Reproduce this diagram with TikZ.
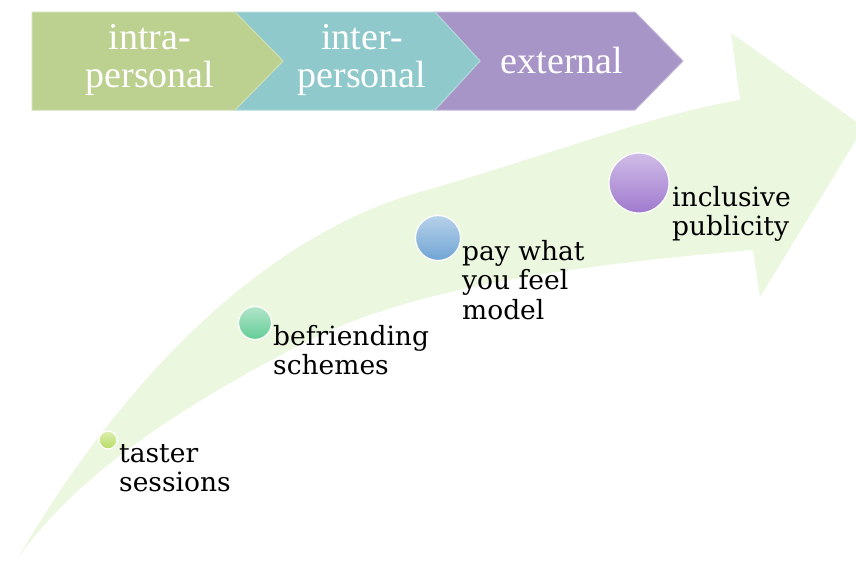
\documentclass[tikz,border=0pt]{standalone}
\usepackage{fontspec}
\setmainfont{Liberation Serif}
\newfontfamily\slabfont{DejaVu Serif}

\definecolor{bandgreen}{RGB}{236,247,224}
\definecolor{intragreen}{RGB}{188,208,143}
\definecolor{interteal}{RGB}{143,201,203}
\definecolor{extpurple}{RGB}{168,149,199}
\definecolor{balllime}{RGB}{184,220,100}
\definecolor{ballmint}{RGB}{100,204,150}
\definecolor{ballblue}{RGB}{112,164,212}
\definecolor{ballviolet}{RGB}{160,122,206}

\tikzset{
  stagebox/.style={line width=1pt},
  stagetext/.style={text=white, align=center, inner sep=0,
    font=\fontsize{38}{38}\selectfont},
  knob/.style={circle, inner sep=0, draw=white, line width=1.2pt,
    top color=#1!50!white, bottom color=#1},
  steplabel/.style={anchor=base west, align=left, inner sep=0,
    font=\slabfont\fontsize{26.5}{29.5}\selectfont}
}

\begin{document}
\begin{tikzpicture}[x=1pt,y=-1pt]

\useasboundingbox (0,0) rectangle (856,560);
\clip (0,0) rectangle (856,560);

% big curved arrow
\fill[bandgreen]
(18,558)
.. controls (110,400) and (250,240) ..
(420,192)
.. controls (560,152) and (650,115) ..
(740,100)
--
(731,33)
--
(864,127)
--
(760,297)
--
(753,250)
.. controls (550,267) and (400,292) ..
(300,345)
.. controls (190,402) and (80,470) ..
(18,558)
-- cycle;

% stage chevrons
\draw[stagebox, fill=extpurple, draw=extpurple!70!white]
(435,12) -- (635,12) -- (683,61) -- (635,110) -- (435,110) -- (480,61) -- cycle;

\draw[stagebox, fill=interteal, draw=interteal!70!white]
(235,12) -- (435,12) -- (480,61) -- (435,110) -- (235,110) -- (283,61) -- cycle;

\draw[stagebox, fill=intragreen, draw=intragreen!70!white]
(32,12) -- (235,12) -- (283,61) -- (235,110) -- (32,110) -- cycle;

\node[stagetext]
(intra)
at (150,60)
{intra-\\personal};

\node[stagetext]
(inter)
at (362,60)
{inter-\\personal};

\node[stagetext]
(extern)
at (562,60)
{external};

% steps along the arrow (label anchored on its last line)
\node[knob=balllime, minimum size=18]
(k1)
at (108,440)
{};

\node[steplabel]
(taster)
at (119,491.5)
{taster\\sessions};

\node[knob=ballmint, minimum size=33]
(k2)
at (255,323)
{};

\node[steplabel]
(befriend)
at (273,374.5)
{befriending\\schemes};

\node[knob=ballblue, minimum size=45]
(k3)
at (438,238)
{};

\node[steplabel]
(paywhat)
at (462,319)
{pay what\\you feel\\model};

\node[knob=ballviolet, minimum size=60]
(k4)
at (639,183)
{};

\node[steplabel]
(publicity)
at (672,235.5)
{inclusive\\publicity};

\end{tikzpicture}
\end{document}
